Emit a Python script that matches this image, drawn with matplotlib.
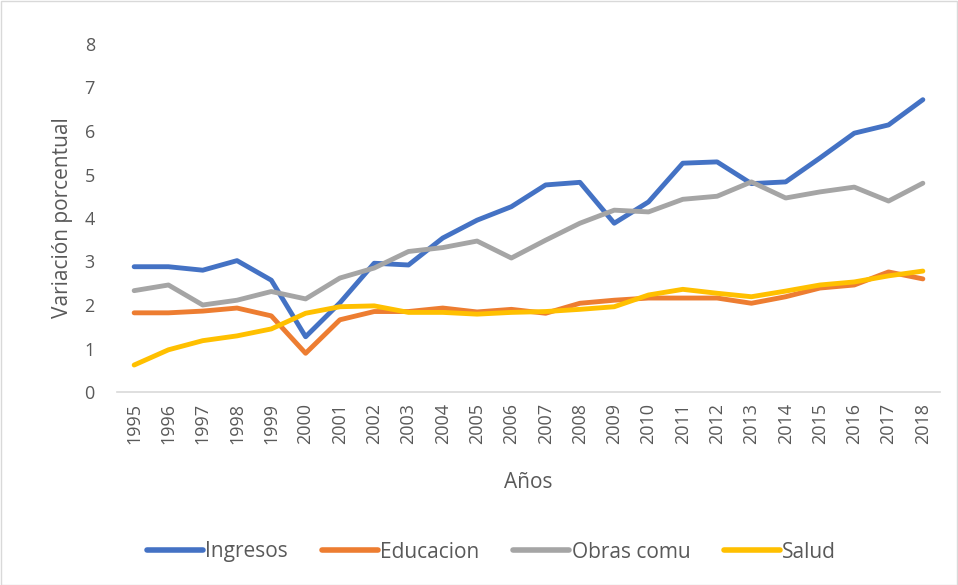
import matplotlib
matplotlib.use("Agg")
import matplotlib.pyplot as plt
from matplotlib.patches import Rectangle

years = [str(y) for y in range(1995, 2019)]
ingresos = [2.88, 2.88, 2.80, 3.02, 2.57, 1.27, 2.05, 2.96, 2.92, 3.54, 3.95, 4.26,
            4.76, 4.82, 3.88, 4.37, 5.26, 5.29, 4.79, 4.83, 5.38, 5.95, 6.14, 6.72]
educacion = [1.82, 1.82, 1.86, 1.93, 1.75, 0.89, 1.66, 1.85, 1.85, 1.93, 1.84, 1.90,
             1.81, 2.04, 2.11, 2.16, 2.16, 2.16, 2.04, 2.19, 2.39, 2.46, 2.76, 2.60]
obras = [2.33, 2.46, 2.00, 2.11, 2.31, 2.14, 2.62, 2.85, 3.23, 3.32, 3.47, 3.08,
         3.49, 3.88, 4.18, 4.14, 4.43, 4.50, 4.83, 4.46, 4.60, 4.71, 4.39, 4.80]
salud = [0.62, 0.97, 1.18, 1.29, 1.45, 1.81, 1.96, 1.98, 1.83, 1.83, 1.79, 1.83,
         1.85, 1.90, 1.96, 2.23, 2.36, 2.27, 2.19, 2.32, 2.46, 2.53, 2.67, 2.78]
series_names = ["Ingresos", "Educacion", "Obras comu", "Salud"]
colors = ["#4472C4", "#ED7D31", "#A5A5A5", "#FFC000"]
yticks = [0, 1, 2, 3, 4, 5, 6, 7, 8]

plt.rcParams['font.family'] = ['Open Sans', 'DejaVu Sans']
txt = "#595959"

fig = plt.figure(figsize=(9.58, 5.85), dpi=100)
ax = fig.add_axes([117/958, 1-392/585, (940-117)/958, (392-44)/585])

x = list(range(len(years)))
for vals, name, c in zip([ingresos, educacion, obras, salud], series_names, colors):
    ax.plot(x, vals, color=c, lw=3.5, label=name, solid_capstyle='round', solid_joinstyle='round')

ax.set_xlim(-0.5, len(years) - 0.5)
ax.set_ylim(0, 8)
ax.set_yticks(yticks)
ax.set_yticklabels([str(t) for t in yticks], fontsize=13, color=txt)
ax.set_xticks(x)
ax.set_xticklabels(years, rotation=90, fontsize=13, color=txt)
ax.tick_params(axis='both', length=0)
ax.tick_params(axis='y', pad=16)
ax.tick_params(axis='x', pad=8)
for s in ['top', 'right', 'left']:
    ax.spines[s].set_visible(False)
ax.spines['bottom'].set_color('#D9D9D9')
ax.spines['bottom'].set_linewidth(1.2)

ax.set_ylabel("Variación porcentual", fontsize=15, color=txt, labelpad=8)
ax.set_xlabel("Años", fontsize=15, color=txt, labelpad=20)

leg = fig.legend(loc='center', bbox_to_anchor=(0.513, 1-552/585), ncol=4, frameon=False,
                 fontsize=15, handlelength=2.7, handletextpad=0.12, columnspacing=1.6,
                 labelcolor=txt)
for h in leg.get_lines():
    h.set_linewidth(4)
    h.set_solid_capstyle('round')

fig.patches.append(Rectangle((0.5/958, 0.5/585), 1-1.5/958, 1-1.5/585, transform=fig.transFigure,
                             fill=False, edgecolor='#D9D9D9', lw=1))

fig.savefig("out.png", dpi=100)
